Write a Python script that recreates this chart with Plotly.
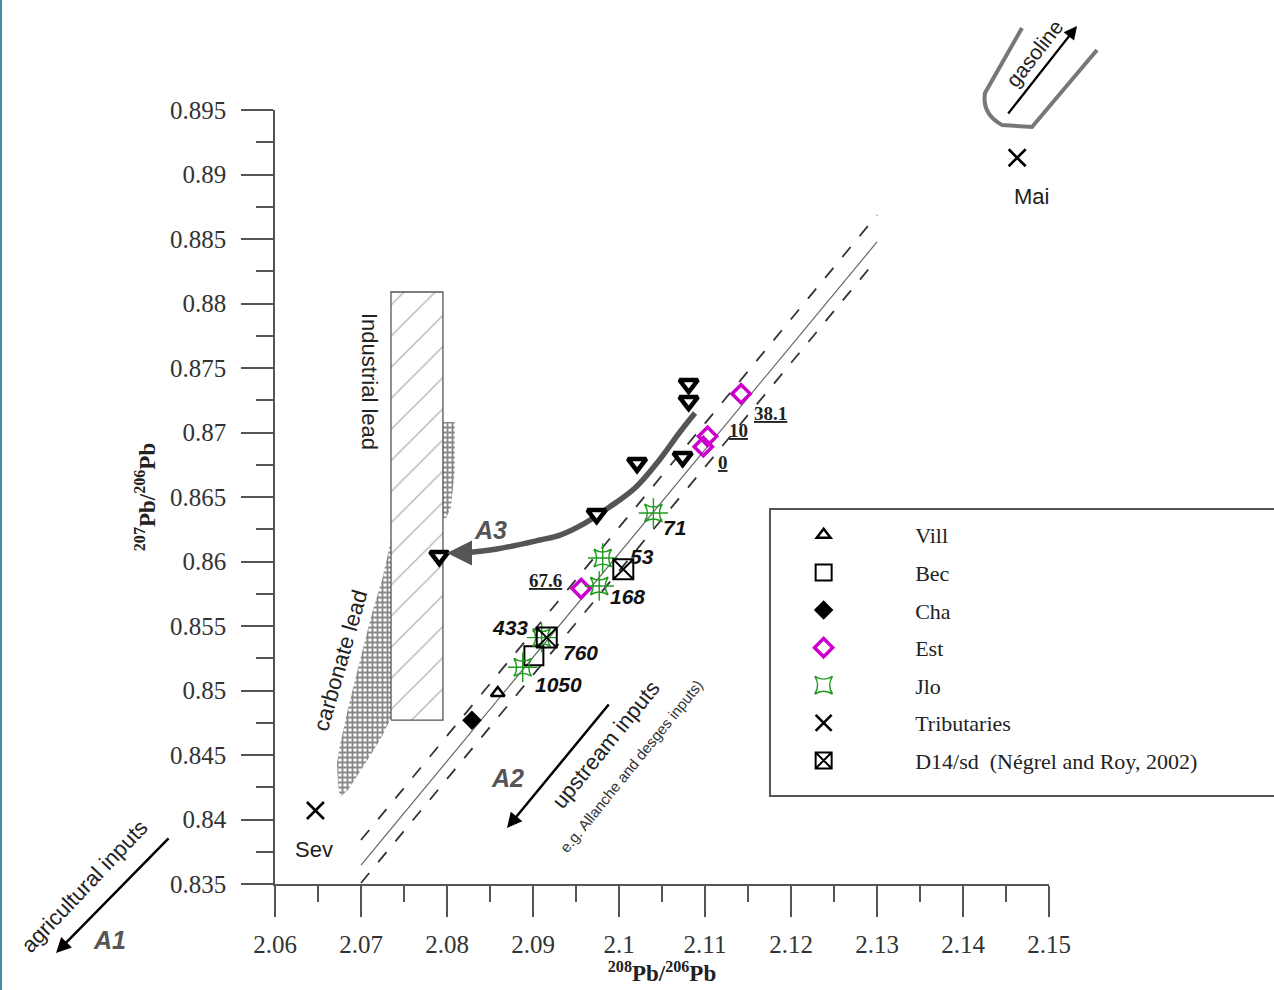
import plotly.graph_objects as go

# ---- sample data: 208Pb/206Pb (x) vs 207Pb/206Pb (y) ----
vill_x, vill_y = [2.0859], [0.8498]
bec_x, bec_y = [2.0901], [0.8527]
cha_x, cha_y = [2.0829], [0.8477]
est_x = [2.1142, 2.1103, 2.1098, 2.0956]
est_y = [0.8730, 0.8697, 0.8689, 0.8579]
jlo_x = [2.1040, 2.0981, 2.0977, 2.0910, 2.0888]
jlo_y = [0.86376, 0.86027, 0.8581, 0.8541, 0.8518]
trib_x, trib_y = [2.0647, 2.1463], [0.8407, 0.8913]
trib_names = ["Sev", "Mai"]
d14_x, d14_y = [2.1005, 2.0916], [0.8594, 0.8541]
# unlabelled inverted triangles
tri_x = [2.1081, 2.1081, 2.1021, 2.1074, 2.0974, 2.0791]
tri_y = [0.87376, 0.87244, 0.86764, 0.8681, 0.86368, 0.86043]

# sample numbers printed next to points
num_labels = ["71", "53", "168", "433", "760", "1050"]
num_x = [2.10651, 2.10267, 2.10093, 2.08733, 2.09547, 2.09291]
num_y = [0.86267, 0.86035, 0.85725, 0.85485, 0.85291, 0.8505]
est_labels = ["38.1", "10", "0", "67.6"]
est_lab_x = [2.11767, 2.11395, 2.11209, 2.0914]
est_lab_y = [0.87151, 0.87012, 0.86771, 0.85849]

# mixing line with its envelope
mix_x = [2.07, 2.13]
mix_y = [0.83647, 0.88477]
env_hi_y = [0.83841, 0.88686]
env_lo_y = [0.83508, 0.88345]

# end-member fields
ind_x = [2.07349, 2.07953, 2.07953, 2.07349, 2.07349]
ind_y = [0.84771, 0.84771, 0.88089, 0.88089, 0.84771]
carb_x = [2.07349, 2.07244, 2.07128, 2.07023, 2.0693, 2.06837, 2.06756, 2.06721,
          2.06733, 2.06756, 2.06849, 2.07023, 2.07221, 2.07349, 2.07349]
carb_y = [0.86167, 0.85857, 0.85601, 0.85337, 0.85081, 0.84826, 0.84578, 0.84438,
          0.84267, 0.84174, 0.84229, 0.84407, 0.84616, 0.84787, 0.86167]
carb2_x = [2.07953, 2.0809, 2.0809, 2.08045, 2.0799, 2.07953, 2.07953]
carb2_y = [0.87081, 0.87081, 0.86700, 0.86420, 0.86337, 0.86337, 0.87081]

# A3 trend curve
a3_x = [2.10884, 2.10709, 2.10442, 2.10186, 2.0989, 2.09605, 2.09314, 2.09081, 2.08581, 2.08186]
a3_y = [0.87151, 0.87004, 0.86764, 0.8657, 0.86422, 0.86298, 0.86205, 0.86167, 0.86097, 0.86066]
a3_tip = (2.0800, 0.86066)

x_ticks = [2.06, 2.07, 2.08, 2.09, 2.10, 2.11, 2.12, 2.13, 2.14, 2.15]
x_tick_text = ["2.06", "2.07", "2.08", "2.09", "2.1", "2.11", "2.12", "2.13", "2.14", "2.15"]
x_minor = [2.065, 2.075, 2.085, 2.095, 2.105, 2.115, 2.125, 2.135, 2.145]
y_ticks = [0.835, 0.84, 0.845, 0.85, 0.855, 0.86, 0.865, 0.87, 0.875, 0.88, 0.885, 0.89, 0.895]
y_tick_text = ["0.835", "0.84", "0.845", "0.85", "0.855", "0.86", "0.865", "0.87",
               "0.875", "0.88", "0.885", "0.89", "0.895"]
y_minor = [0.8375, 0.8425, 0.8475, 0.8525, 0.8575, 0.8625, 0.8675, 0.8725,
           0.8775, 0.8825, 0.8875, 0.8925]

SERIF = "Liberation Serif, Times New Roman, serif"
SANS = "Liberation Sans, Arial, sans-serif"
AX = "#555555"
MAG = "#cc00cc"
GRN = "#1f9a1f"
NB = "\u00a0"

fig = go.Figure()

brick = dict(shape="+", size=5, solidity=0.6, fgcolor="#111111", bgcolor="white")

# end-member fields
fig.add_trace(go.Scatter(x=carb_x, y=carb_y, mode="lines", fill="toself",
                         line=dict(width=0, color="rgba(0,0,0,0)"),
                         fillpattern=brick, showlegend=False, hoverinfo="skip"))
fig.add_trace(go.Scatter(x=carb2_x, y=carb2_y, mode="lines", fill="toself",
                         line=dict(width=0, color="rgba(0,0,0,0)"),
                         fillpattern=brick, showlegend=False, hoverinfo="skip"))
fig.add_trace(go.Scatter(x=ind_x, y=ind_y, mode="lines", fill="toself",
                         line=dict(width=1.3, color="#555555"),
                         fillpattern=dict(shape="/", size=22, solidity=0.06,
                                          fgcolor="#666666", bgcolor="white"),
                         showlegend=False, hoverinfo="skip"))

# mixing line and envelope
fig.add_trace(go.Scatter(x=mix_x, y=mix_y, mode="lines",
                         line=dict(color="#666666", width=1.2),
                         showlegend=False, hoverinfo="skip"))
for ey in (env_hi_y, env_lo_y):
    fig.add_trace(go.Scatter(x=mix_x, y=ey, mode="lines",
                             line=dict(color="#333333", width=1.8, dash="13px,14px"),
                             showlegend=False, hoverinfo="skip"))

# A3 trend
fig.add_trace(go.Scatter(x=a3_x, y=a3_y, mode="lines",
                         line=dict(color="#555555", width=5.5, shape="spline"),
                         showlegend=False, hoverinfo="skip"))

# unlabelled inverted triangles
fig.add_trace(go.Scatter(x=tri_x, y=tri_y, mode="markers", showlegend=False,
                         marker=dict(symbol="triangle-down", size=16, color="white",
                                     line=dict(color="black", width=4.5))))

fig.add_trace(go.Scatter(x=vill_x, y=vill_y, mode="markers", name=NB * 13 + "Vill",
                         legendgroup="a",
                         marker=dict(symbol="triangle-up-open", size=12, color="black",
                                     line=dict(width=2.5))))
fig.add_trace(go.Scatter(x=bec_x, y=bec_y, mode="markers", name=NB * 13 + "Bec",
                         legendgroup="b",
                         marker=dict(symbol="square-open", size=19, color="black",
                                     line=dict(width=2))))
fig.add_trace(go.Scatter(x=cha_x, y=cha_y, mode="markers", name=NB * 13 + "Cha",
                         legendgroup="c",
                         marker=dict(symbol="diamond", size=15, color="black")))
fig.add_trace(go.Scatter(x=est_x, y=est_y, mode="markers", name=NB * 13 + "Est",
                         legendgroup="d",
                         marker=dict(symbol="diamond-open", size=14, color=MAG,
                                     line=dict(width=3.5))))
fig.add_trace(go.Scatter(x=jlo_x, y=jlo_y, mode="markers", name=NB * 13 + "Jlo",
                         legendgroup="e",
                         marker=dict(symbol="star-square-open", size=16, color=GRN,
                                     line=dict(width=1.6))))
fig.add_trace(go.Scatter(x=jlo_x, y=jlo_y, mode="markers", showlegend=False,
                         legendgroup="e",
                         marker=dict(symbol="cross-thin-open", size=21, color=GRN,
                                     line=dict(width=1.4))))
fig.add_trace(go.Scatter(x=trib_x, y=trib_y, mode="markers", name=NB * 13 + "Tributaries",
                         legendgroup="f",
                         marker=dict(symbol="x-thin-open", size=17, color="black",
                                     line=dict(width=2.6))))
fig.add_trace(go.Scatter(x=d14_x, y=d14_y, mode="markers",
                         name=NB * 13 + "D14/sd  (Négrel and Roy, 2002)",
                         legendgroup="g",
                         marker=dict(symbol="square-x-open", size=20, color="black",
                                     line=dict(width=2))))

ann = []
for t, x, y in zip(num_labels, num_x, num_y):
    ann.append(dict(x=x, y=y, text="<b><i>" + t + "</i></b>", showarrow=False,
                    font=dict(family=SANS, size=21, color="#111111")))
for t, x, y in zip(est_labels, est_lab_x, est_lab_y):
    ann.append(dict(x=x, y=y, text="<b><u>" + t + "</u></b>", showarrow=False,
                    font=dict(family=SERIF, size=19, color="#222222")))
for t, x, y in zip(trib_names, trib_x, trib_y):
    ann.append(dict(x=x - 0.0002 if t == "Sev" else x + 0.0017, y=y - 0.0030,
                    text=t, showarrow=False,
                    font=dict(family=SANS, size=22, color="#222222")))

ann += [
    dict(x=2.07105, y=0.87399, text="Industrial lead", textangle=90, showarrow=False,
         font=dict(family=SANS, size=22, color="#222222")),
    dict(x=2.06756, y=0.85236, text="carbonate lead", textangle=-74, showarrow=False,
         font=dict(family=SANS, size=22, color="#222222")),
    dict(x=2.085, y=0.86244, text="<b><i>A3</i></b>", showarrow=False,
         font=dict(family=SANS, size=25, color="#555555")),
    dict(x=2.08698, y=0.84322, text="<b><i>A2</i></b>", showarrow=False,
         font=dict(family=SANS, size=25, color="#555555")),
    dict(x=2.09849, y=0.84578, text="upstream inputs", textangle=-51, showarrow=False,
         font=dict(family=SANS, size=22, color="#222222")),
    dict(x=2.10151, y=0.84415, text="e.g. Allanche and desges inputs)", textangle=-51,
         showarrow=False, font=dict(family=SANS, size=15, color="#333333")),
    # A3 arrow head
    dict(x=a3_tip[0], y=a3_tip[1], ax=a3_x[-1], ay=a3_y[-1], axref="x", ayref="y",
         text="", showarrow=True, arrowhead=2, arrowsize=1.0, arrowwidth=5,
         arrowcolor="#555555"),
    # A2 arrow
    dict(x=2.08698, y=0.83934, ax=2.09895, ay=0.84903, axref="x", ayref="y",
         text="", showarrow=True, arrowhead=2, arrowsize=1.2, arrowwidth=2.5,
         arrowcolor="black"),
    # A1 arrow and texts, left of the axis
    dict(x=-0.2829, y=-0.0891, xref="paper", yref="paper", ax=114, ay=-116,
         text="", showarrow=True, arrowhead=2, arrowsize=1.2, arrowwidth=2.5,
         arrowcolor="black"),
    dict(x=-0.2132, y=-0.0724, xref="paper", yref="paper", text="<b><i>A1</i></b>",
         xanchor="center", yanchor="middle",
         showarrow=False, font=dict(family=SANS, size=25, color="#555555")),
    dict(x=-0.2468, y=-0.0026, xref="paper", yref="paper", text="agricultural inputs",
         xanchor="center", yanchor="middle",
         textangle=-46.6, showarrow=False, font=dict(family=SANS, size=22, color="#222222")),
    # gasoline
    dict(x=1.0362, y=1.1085, xref="paper", yref="paper", ax=-70, ay=89,
         text="", showarrow=True, arrowhead=2, arrowsize=1.2, arrowwidth=2.2,
         arrowcolor="black"),
    dict(x=0.9806, y=1.0736, xref="paper", yref="paper", text="gasoline",
         xanchor="center", yanchor="middle",
         textangle=-52, showarrow=False, font=dict(family=SANS, size=21, color="#222222")),
]

shapes = [
    # gasoline field outline
    dict(type="path", xref="paper", yref="paper",
         path="M 0.9651,1.1059 L 0.9173,1.0220 Q 0.9130,0.9950 0.9393,0.9806 "
              "L 0.9780,0.9780 L 1.0620,1.0775",
         line=dict(color="#777777", width=4)),
    # legend frame
    dict(type="rect", xref="paper", yref="paper", x0=0.6395, x1=1.32, y0=0.1137, y1=0.4845,
         line=dict(color="#555555", width=2)),
    # left page rule
    dict(type="line", xref="paper", yref="paper", x0=-0.3540, x1=-0.3540, y0=-0.14, y1=1.15,
         line=dict(color="#3f8fa0", width=2)),
]

axis_font = dict(family=SERIF, size=25, color="#333333")
fig.update_layout(
    width=1274, height=990,
    margin=dict(l=275, r=225, t=110, b=106),
    paper_bgcolor="white", plot_bgcolor="white",
    font=dict(family=SERIF, color="#222222"),
    showlegend=True,
    legend=dict(x=0.683, y=0.478, xanchor="left", yanchor="top",
                bgcolor="rgba(0,0,0,0)", borderwidth=0,
                font=dict(family=SERIF, size=22, color="#222222"),
                tracegroupgap=6, itemsizing="trace"),
    annotations=ann, shapes=shapes,
    xaxis=dict(range=[2.06, 2.15], tickvals=x_ticks, ticktext=x_tick_text,
               ticks="outside", ticklen=31, tickwidth=1.5, tickcolor=AX,
               showline=True, linecolor=AX, linewidth=1.5, showgrid=False,
               zeroline=False, tickfont=axis_font, ticklabelstandoff=6,
               minor=dict(tickvals=x_minor, ticks="outside", ticklen=16,
                          tickwidth=1.5, tickcolor=AX, showgrid=False),
               title=dict(text="<b><sup>208</sup>Pb/<sup>206</sup>Pb</b>",
                          font=dict(family=SERIF, size=23, color="#222222"),
                          standoff=2)),
    yaxis=dict(range=[0.835, 0.895], tickvals=y_ticks, ticktext=y_tick_text,
               ticks="outside", ticklen=32, tickwidth=1.5, tickcolor=AX,
               showline=True, linecolor=AX, linewidth=1.5, showgrid=False,
               zeroline=False, tickfont=axis_font, ticklabelstandoff=10,
               minor=dict(tickvals=y_minor, ticks="outside", ticklen=17,
                          tickwidth=1.5, tickcolor=AX, showgrid=False),
               title=dict(text="<b><sup>207</sup>Pb/<sup>206</sup>Pb</b>",
                          font=dict(family=SERIF, size=23, color="#222222"),
                          standoff=8)),
)

fig.write_html("out.html")
